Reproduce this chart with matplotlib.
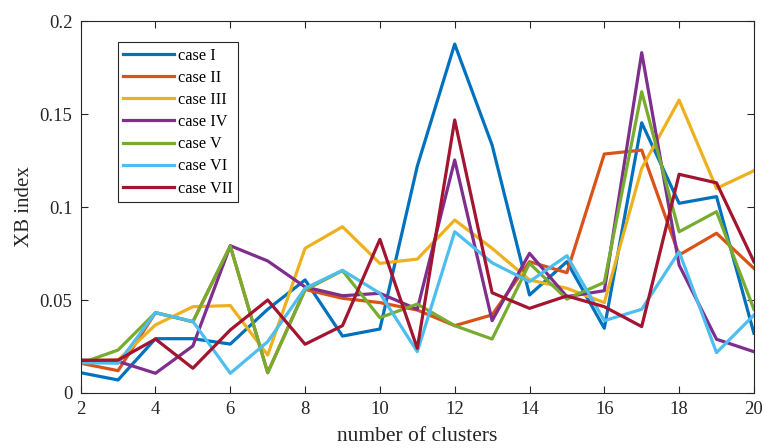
import matplotlib
matplotlib.use("Agg")
import matplotlib.pyplot as plt

clusters = list(range(2, 21))
case_I   = [0.0109, 0.0070, 0.0292, 0.0292, 0.0263, 0.0450, 0.0608, 0.0306, 0.0344, 0.1220, 0.1876, 0.1333, 0.0527, 0.0706, 0.0348, 0.1453, 0.1020, 0.1056, 0.0321]
case_II  = [0.0160, 0.0120, 0.0432, 0.0383, 0.0790, 0.0109, 0.0557, 0.0509, 0.0486, 0.0446, 0.0362, 0.0420, 0.0706, 0.0647, 0.1285, 0.1306, 0.0742, 0.0859, 0.0670]
case_III = [0.0175, 0.0177, 0.0366, 0.0464, 0.0470, 0.0204, 0.0778, 0.0894, 0.0697, 0.0720, 0.0930, 0.0778, 0.0608, 0.0563, 0.0486, 0.1208, 0.1575, 0.1100, 0.1195]
case_IV  = [0.0177, 0.0170, 0.0106, 0.0253, 0.0792, 0.0710, 0.0570, 0.0523, 0.0536, 0.0450, 0.1253, 0.0389, 0.0751, 0.0518, 0.0550, 0.1830, 0.0688, 0.0289, 0.0222]
case_V   = [0.0160, 0.0231, 0.0432, 0.0383, 0.0790, 0.0109, 0.0554, 0.0658, 0.0405, 0.0478, 0.0362, 0.0290, 0.0697, 0.0505, 0.0595, 0.1620, 0.0867, 0.0975, 0.0450]
case_VI  = [0.0163, 0.0160, 0.0432, 0.0385, 0.0106, 0.0276, 0.0563, 0.0660, 0.0536, 0.0222, 0.0867, 0.0700, 0.0599, 0.0738, 0.0389, 0.0450, 0.0760, 0.0217, 0.0419]
case_VII = [0.0175, 0.0177, 0.0290, 0.0133, 0.0339, 0.0500, 0.0262, 0.0362, 0.0826, 0.0240, 0.1468, 0.0539, 0.0455, 0.0522, 0.0464, 0.0357, 0.1176, 0.1130, 0.0706]

series = [case_I, case_II, case_III, case_IV, case_V, case_VI, case_VII]
labels = ["case I", "case II", "case III", "case IV", "case V", "case VI", "case VII"]
colors = ["#0072BD", "#D95319", "#EDB120", "#7E2F8E", "#77AC30", "#4DBEEE", "#A2142F"]
xticks = list(range(2, 21, 2))
yticks = [0, 0.05, 0.1, 0.15, 0.2]
ytick_labels = ["0", "0.05", "0.1", "0.15", "0.2"]

plt.rcParams['font.family'] = ['Liberation Serif', 'DejaVu Serif']

fig = plt.figure(figsize=(7.64, 4.48), dpi=100)
ax = fig.add_axes([0.1056, 0.1228, 0.8812, 0.8302])

for vals, lab, c in zip(series, labels, colors):
    ax.plot(clusters, vals, color=c, lw=2.3, label=lab)

ax.set_xlim(2, 20)
ax.set_ylim(0, 0.2)
ax.set_xticks(xticks)
ax.set_yticks(yticks)
ax.set_yticklabels(ytick_labels)
ax.tick_params(direction='in', top=True, right=True, labelsize=13.5, length=5, width=0.8, color='#262626', labelcolor='#262626')
ax.tick_params(axis='x', pad=6)
ax.tick_params(axis='y', pad=6)
for s in ax.spines.values():
    s.set_linewidth(0.8)
    s.set_color('#262626')

ax.set_xlabel("number of clusters", fontsize=15.5, color='#262626', labelpad=6)
ax.set_ylabel("XB index", fontsize=15, color='#262626', labelpad=4)

leg = ax.legend(loc='upper left', bbox_to_anchor=(0.055, 0.944), borderaxespad=0,
                fontsize=11.7, fancybox=False, edgecolor='#262626', framealpha=1,
                handlelength=3.1, handletextpad=0.25, labelspacing=0.38, borderpad=0.35)
leg.get_frame().set_linewidth(0.8)

fig.savefig("out.png", dpi=100)
